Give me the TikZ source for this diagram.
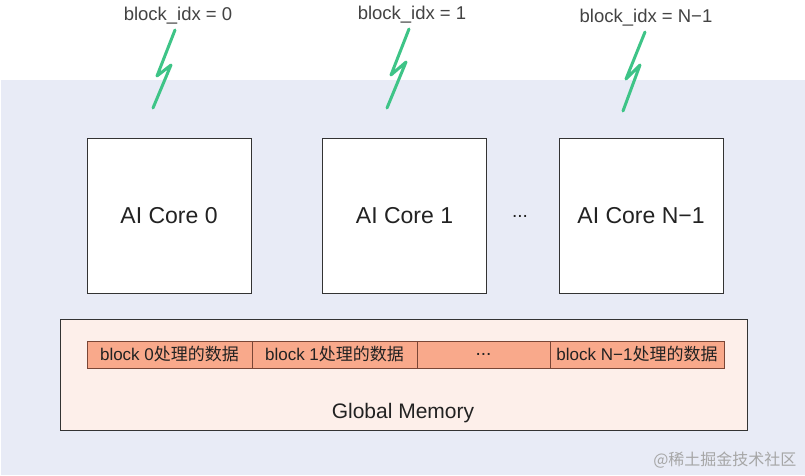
\documentclass[tikz,border=0pt]{standalone}
\usepackage{fontspec}
\setmainfont{Liberation Sans}
\newfontfamily\cjk{Noto Sans CJK SC}
\definecolor{bgblue}{HTML}{E8EBF6}
\definecolor{boxline}{HTML}{333333}
\definecolor{memfill}{HTML}{FDEFEA}
\definecolor{stripfill}{HTML}{F9A98B}
\definecolor{stripline}{HTML}{7A4636}
\definecolor{bolt}{HTML}{3EC487}
\definecolor{txt}{HTML}{222222}
\begin{document}
\begin{tikzpicture}[x=1pt,y=-1pt,
  corebox/.style={draw=boxline,line width=1pt,fill=white,minimum width=164pt,minimum height=155pt,inner sep=0pt,
     font=\fontsize{23}{25}\selectfont,text=txt},
  cell/.style={draw=stripline,line width=1pt,fill=stripfill,minimum height=27pt,inner sep=0pt,
     font=\fontsize{17}{19}\selectfont,text=txt},
  idxlabel/.style={font=\fontsize{18.5}{20}\selectfont,text=txt!85},
  boltline/.style={draw=bolt,line width=3pt,line cap=round,line join=round}]
\useasboundingbox (0,0) rectangle (805,475);
\fill[white] (0,0) rectangle (805,475);
\fill[bgblue] (1,80) rectangle (805,475);

% labels
\node[idxlabel] (l0) at (178,16) {block\_idx = 0};
\node[idxlabel] (l1) at (412,15) {block\_idx = 1};
\node[idxlabel] (l2) at (646,18) {block\_idx = N−1};

% lightning bolts
\coordinate (b0a) at (175,30); \coordinate (b0b) at (157,76); \coordinate (b0c) at (171,65); \coordinate (b0d) at (153,108);
\draw[boltline] (b0a) -- (b0b) -- (b0c) -- (b0d);
\coordinate (b1a) at (409,29); \coordinate (b1b) at (391,75); \coordinate (b1c) at (406,62); \coordinate (b1d) at (387,108);
\draw[boltline] (b1a) -- (b1b) -- (b1c) -- (b1d);
\coordinate (b2a) at (645,32); \coordinate (b2b) at (626,79); \coordinate (b2c) at (640,65); \coordinate (b2d) at (623,111);
\draw[boltline] (b2a) -- (b2b) -- (b2c) -- (b2d);

% cores
\node[corebox] (c0) at (169,215.5) {AI Core 0};
\node[corebox] (c1) at (404.5,215.5) {AI Core 1};
\node[corebox] (c2) at (641,215.5) {AI Core N−1};
\node[font=\fontsize{19}{21}\selectfont,text=txt] (dots) at (520,216) {...};

% global memory
\node[draw=boxline,line width=1pt,fill=memfill,minimum width=687pt,minimum height=111pt,inner sep=0pt] (gm) at (403.5,374.5) {};
\node[font=\fontsize{21}{23}\selectfont,text=txt] (gml) at (403,413) {Global Memory};

\node[cell,minimum width=165pt] (s0) at (169.5,354.5) {block 0{\cjk 处理的数据}};
\node[cell,minimum width=165pt] (s1) at (334.5,354.5) {block 1{\cjk 处理的数据}};
\node[cell,minimum width=133pt,font=\fontsize{19}{21}\selectfont] (s2) at (483.5,354.5) {...};
\node[cell,minimum width=174pt] (s3) at (637,354.5) {block N−1{\cjk 处理的数据}};

% watermark
\node[font=\cjk\fontsize{16}{18}\selectfont,text=black!35,anchor=east] (wm) at (800,460) {@稀土掘金技术社区};
\end{tikzpicture}
\end{document}
